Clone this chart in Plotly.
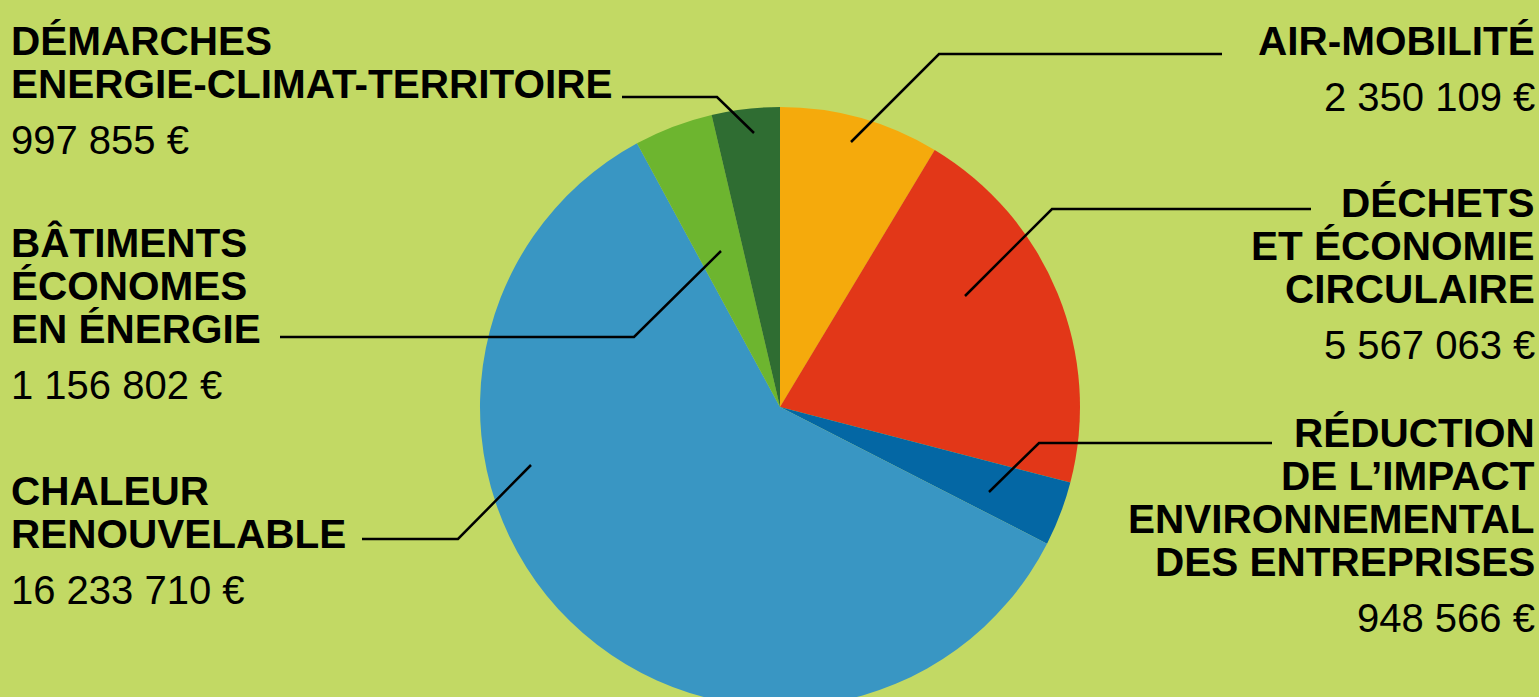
import plotly.graph_objects as go

# ---- data ----
categories = [
    "AIR-MOBILITÉ",
    "DÉCHETS ET ÉCONOMIE CIRCULAIRE",
    "RÉDUCTION DE L’IMPACT ENVIRONNEMENTAL DES ENTREPRISES",
    "CHALEUR RENOUVELABLE",
    "BÂTIMENTS ÉCONOMES EN ÉNERGIE",
    "DÉMARCHES ENERGIE-CLIMAT-TERRITOIRE",
]
values = [2350109, 5567063, 948566, 16233710, 1156802, 997855]
label_lines = [
    ["AIR-MOBILITÉ"],
    ["DÉCHETS", "ET ÉCONOMIE", "CIRCULAIRE"],
    ["RÉDUCTION", "DE L’IMPACT", "ENVIRONNEMENTAL", "DES ENTREPRISES"],
    ["CHALEUR", "RENOUVELABLE"],
    ["BÂTIMENTS", "ÉCONOMES", "EN ÉNERGIE"],
    ["DÉMARCHES", "ENERGIE-CLIMAT-TERRITOIRE"],
]
value_labels = ["2 350 109 €", "5 567 063 €", "948 566 €", "16 233 710 €", "1 156 802 €", "997 855 €"]
colors = ["#f5aa0c", "#e23718", "#0467a4", "#3996c3", "#6db52f", "#2f6d32"]

# ---- layout helpers (pixel positions) ----
W, H = 1539, 707
BG = "#c2d964"
FONT = "Liberation Sans, Arial, sans-serif"


def px(x):
    return x / W


def py(y):
    return (H - y) / H


# text block placement: (x anchor px, side, first baseline px)
blocks = [
    (1537, "right", 55),
    (1537, "right", 217),
    (1537, "right", 447),
    (9, "left", 505),
    (9, "left", 257),
    (9, "left", 55),
]
LINE_GAP = 43
VALUE_GAP = 56

# leader lines: horizontal start, bend, end on slice
leaders = [
    [(1222, 54), (939, 54), (851, 142)],
    [(1311, 209), (1052, 209), (965, 296)],
    [(1272, 443), (1039, 443), (989, 492)],
    [(362, 539), (458, 539), (531, 465)],
    [(280, 337), (634, 337), (721, 251)],
    [(622, 97), (717, 97), (754, 133)],
]

fig = go.Figure()
fig.add_trace(go.Pie(
    labels=categories,
    values=values,
    sort=False,
    direction="clockwise",
    rotation=0,
    marker=dict(colors=colors, line=dict(width=0)),
    textinfo="none",
    showlegend=False,
    domain=dict(x=[px(480), px(1080)], y=[py(707), py(107)]),
))

annotations = []
for (xa, side, base), lines, val in zip(blocks, label_lines, value_labels):
    for i, ln in enumerate(lines):
        b = base + i * LINE_GAP
        annotations.append(dict(
            x=px(xa), y=py(b - 14), xref="paper", yref="paper",
            xanchor=side, yanchor="middle", showarrow=False,
            text=ln, font=dict(family=FONT, size=40.5, color="#000000", weight="bold"),
        ))
    vb = base + (len(lines) - 1) * LINE_GAP + VALUE_GAP
    annotations.append(dict(
        x=px(xa), y=py(vb - 14), xref="paper", yref="paper",
        xanchor=side, yanchor="middle", showarrow=False,
        text=val, font=dict(family=FONT, size=40, color="#000000"),
    ))

shapes = []
for pts in leaders:
    path = "M " + " L ".join(f"{px(x)},{py(y)}" for x, y in pts)
    shapes.append(dict(type="path", xref="paper", yref="paper", path=path,
                       line=dict(color="#000000", width=2.5)))

fig.update_layout(
    width=W, height=H,
    margin=dict(l=0, r=0, t=0, b=0),
    paper_bgcolor=BG, plot_bgcolor=BG,
    annotations=annotations,
    shapes=shapes,
)

fig.write_html("out.html")
